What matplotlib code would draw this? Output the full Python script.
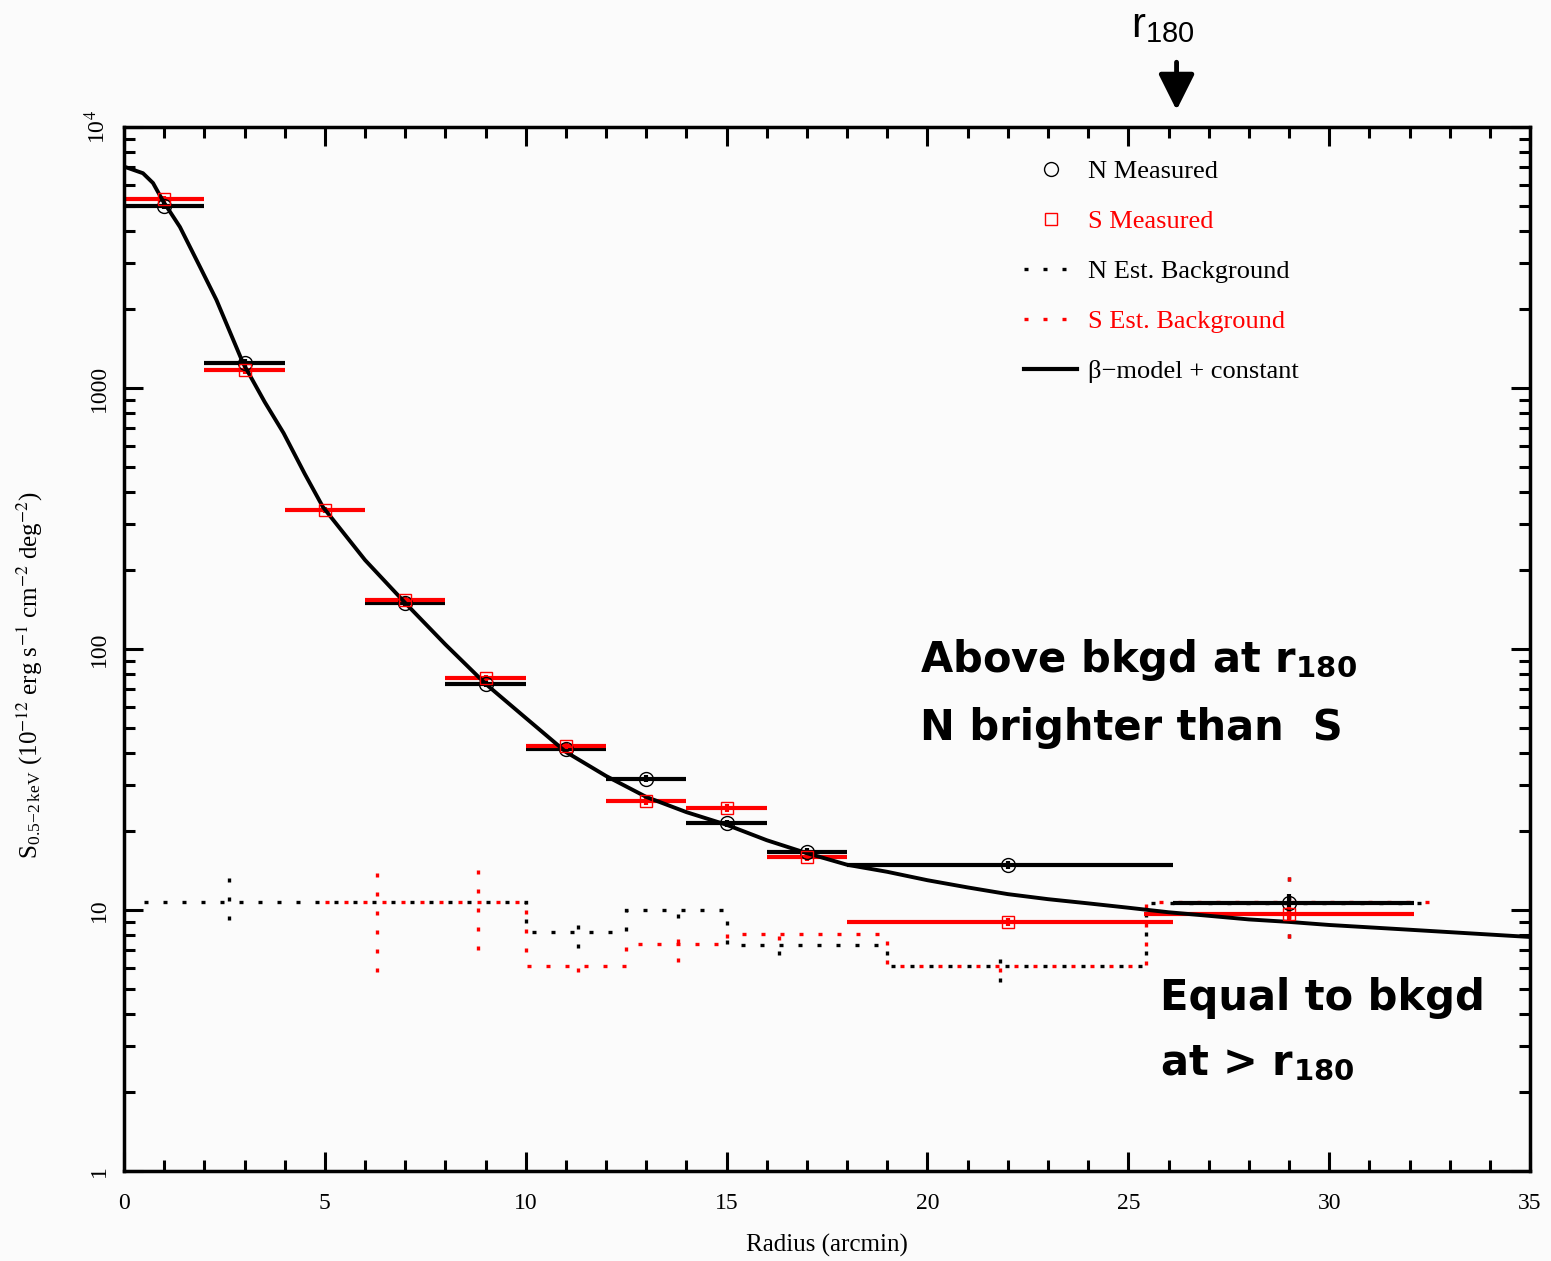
import matplotlib.pyplot as plt
from matplotlib.lines import Line2D
from matplotlib.ticker import MultipleLocator, LogLocator, FixedFormatter, FixedLocator

# measured profiles (bin centre, bin edges, value, error)
n_x = [1, 3, 7, 9, 11, 13, 15, 17, 22, 29]
n_lo = [0, 2, 6, 8, 10, 12, 14, 16, 18.0, 26.1]
n_hi = [2, 4, 8, 10, 12, 14, 16, 18, 26.1, 32.1]
n_val = [4980, 1247, 150, 73.5, 41.4, 31.8, 21.5, 16.7, 14.9, 10.6]
n_err = [150, 40, 4, 2.0, 1.2, 1.0, 0.7, 0.6, 0.5, 0.9]

s_x = [1, 3, 5, 7, 9, 11, 13, 15, 17, 22, 29]
s_lo = [0, 2, 4, 6, 8, 10, 12, 14, 16, 18.0, 25.4]
s_hi = [2, 4, 6, 8, 10, 12, 14, 16, 18, 26.1, 32.1]
s_val = [5300, 1172, 341, 154, 77.4, 42.5, 26.2, 24.6, 16.0, 9.0, 9.65]
s_err = [160, 40, 10, 4, 2.0, 1.2, 0.9, 0.8, 0.6, 0.35, 0.6]

# estimated backgrounds (step edges + levels, with error points)
n_bg_edges = [0.5, 10, 12.5, 15, 19, 25.45, 32.6]
n_bg_vals = [10.7, 8.24, 10.0, 7.34, 6.1, 10.6]
n_bg_ex = [2.6, 11.3, 13.8, 16.3, 21.8, 29.0]
n_bg_low = [9.16, 7.14, 9.3, 6.7, 5.3, 7.8]
n_bg_high = [13.5, 9.16, 10.6, 7.9, 6.7, 14.2]

s_bg_edges = [5, 10, 12.5, 15, 19, 25.45, 32.6]
s_bg_vals = [10.7, 6.1, 7.4, 8.09, 6.1, 10.7]
s_bg_ex = [6.3, 8.8, 11.3, 13.8, 16.3, 21.8, 29.0]
s_bg_low = [5.8, 7.0, 5.8, 6.3, 7.7, 5.8, 7.8]
s_bg_high = [15.3, 15.3, 6.5, 8.0, 8.5, 6.4, 14.2]

# beta-model + constant
model_x = [0, 0.47, 0.72, 0.97, 1.39, 1.89, 2.3, 2.96, 3.5, 3.97, 4.5, 4.95, 6, 7, 8,
           9, 10, 11, 12, 13, 14, 15, 16, 17, 18, 19, 20, 21, 22, 23, 24, 25, 26,
           27, 28, 29, 30, 32, 35]
model_y = [7050, 6650, 6100, 5200, 4140, 2910, 2173, 1247, 884, 672, 468, 350, 219,
           150, 104, 73.5, 54.4, 40.3, 32.6, 27.1, 23.7, 21.2, 18.5, 16.5, 14.9,
           14.0, 13.0, 12.2, 11.5, 11.0, 10.6, 10.2, 9.8, 9.5, 9.2, 9.0, 8.76, 8.4,
           7.88]

r180 = 26.2

plt.rcParams['font.family'] = ['Liberation Serif', 'DejaVu Serif']
plt.rcParams['mathtext.fontset'] = 'stix'

fig = plt.figure(figsize=(15.51, 12.61), dpi=100, facecolor='#fbfbfb')
ax = fig.add_axes([0.080, 0.0714, 0.9065, 0.8279])
ax.set_facecolor('#fbfbfb')

dot = (0, (1.2, 4.5))
ax.stairs(n_bg_vals, n_bg_edges, color='black', lw=2.4, ls=dot, baseline=None)
ax.vlines(n_bg_ex, n_bg_low, n_bg_high, color='black', lw=2.4, ls=dot)
ax.stairs(s_bg_vals, s_bg_edges, color='red', lw=2.4, ls=dot, baseline=None)
ax.vlines(s_bg_ex, s_bg_low, s_bg_high, color='red', lw=2.4, ls=dot)

n_xerr = [[x - lo for x, lo in zip(n_x, n_lo)], [hi - x for x, hi in zip(n_x, n_hi)]]
s_xerr = [[x - lo for x, lo in zip(s_x, s_lo)], [hi - x for x, hi in zip(s_x, s_hi)]]
ax.errorbar(n_x, n_val, xerr=n_xerr, yerr=n_err, fmt='o', mfc='none', mec='black',
            ms=10, mew=1.0, ecolor='black', elinewidth=3, capsize=0)
ax.errorbar(s_x, s_val, xerr=s_xerr, yerr=s_err, fmt='s', mfc='none', mec='red',
            ms=9, mew=1.0, ecolor='red', elinewidth=3, capsize=0)

ax.plot(model_x, model_y, color='black', lw=2.8)

ax.set_yscale('log')
ax.set_xlim(0, 35)
ax.set_ylim(1, 1e4)
ax.xaxis.set_major_locator(MultipleLocator(5))
ax.xaxis.set_minor_locator(MultipleLocator(1))
ax.yaxis.set_major_locator(FixedLocator([1, 10, 100, 1000, 1e4]))
ax.yaxis.set_major_formatter(FixedFormatter(['1', '10', '100', '1000', r'10$^4$']))
ax.yaxis.set_minor_locator(LogLocator(base=10, subs=range(2, 10)))
ax.tick_params(which='both', direction='in', top=True, right=True, width=2.2,
               labelsize=17)
ax.tick_params(which='major', length=14)
ax.tick_params(axis='x', which='major', pad=16)
ax.tick_params(axis='y', which='major', pad=10)
ax.tick_params(which='minor', length=8)
for lbl in ax.get_yticklabels():
    lbl.set_rotation(90)
    lbl.set_va('center')
for sp in ax.spines.values():
    sp.set_linewidth(2.5)

ax.set_xlabel('Radius (arcmin)', fontsize=18, labelpad=14)
ax.set_ylabel(r'S$_{\mathregular{0.5\!-\!2\,keV}}$ (10$^{-12}$ erg s$^{-1}$ cm$^{-2}$ deg$^{-2}$)',
              fontsize=18)
ax.yaxis.set_label_coords(-0.056, 0.475)

handles = [
    Line2D([], [], ls='none', marker='o', mfc='none', mec='black', ms=10),
    Line2D([], [], ls='none', marker='s', mfc='none', mec='red', ms=9),
    Line2D([], [], color='black', lw=2.4, ls=dot),
    Line2D([], [], color='red', lw=2.4, ls=dot),
    Line2D([], [], color='black', lw=3),
]
labels = ['N Measured', 'S Measured', 'N Est. Background', 'S Est. Background',
          '\u03b2\u2212model + constant']
ax.legend(handles, labels, loc='upper left', bbox_to_anchor=(0.631, 0.981),
          borderpad=0, frameon=False, fontsize=19, handlelength=2.0,
          handletextpad=0.4, labelspacing=1.0,
          labelcolor=['black', 'red', 'black', 'red', 'black'])

note = dict(fontsize=30, fontweight='bold', family='DejaVu Sans', color='black',
            va='baseline')
ax.text(19.82, 81.6, r'Above bkgd at r$_{\mathregular{180}}$', **note)
ax.text(19.82, 44.8, 'N brighter than  S', **note)
ax.text(25.79, 4.14, 'Equal to bkgd', **note)
ax.text(25.79, 2.33, r'at > r$_{\mathregular{180}}$', **note)

ax.annotate('', xy=(r180, 1.16e4), xytext=(r180, 1.77e4), xycoords='data',
            annotation_clip=False,
            arrowprops=dict(arrowstyle='-|>,head_length=1.1,head_width=0.55',
                            mutation_scale=20, color='black', lw=3.5,
                            shrinkA=0, shrinkB=0))
ax.text(25.87, 2.21e4, r'r$_{\mathregular{180}}$', ha='center', va='baseline',
        fontsize=30, family='Liberation Sans', clip_on=False)

plt.savefig('out.png', dpi=100, facecolor=fig.get_facecolor())
